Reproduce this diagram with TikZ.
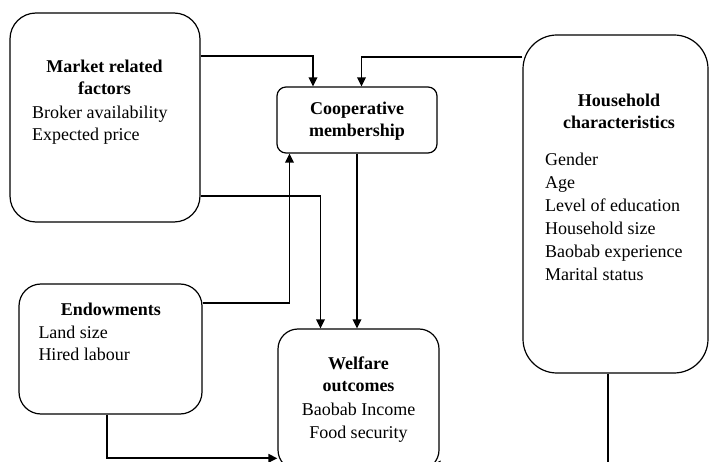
\documentclass[tikz,border=0pt]{standalone}
\usepackage{fontspec}
\setmainfont{Liberation Serif}
\usetikzlibrary{arrows.meta}
\newcommand{\tstrut}{\rule{0pt}{16pt}}
\begin{document}
\begin{tikzpicture}[x=1pt,y=-1pt,
  box/.style={draw=black, line width=1.2pt, inner sep=0pt},
  txt/.style={inner sep=0pt, font={\fontsize{18}{22.7}\selectfont}},
  hdr/.style={txt, anchor=north, align=center, font={\fontsize{18}{22.3}\selectfont\bfseries}},
  body/.style={txt, anchor=north west, align=left},
  arr/.style={line width=1.8pt, -{Triangle[length=9pt,width=8.5pt]}}
]
\useasboundingbox (0,0) rectangle (709,462);
\clip (0,0) rectangle (709,462);

% boxes
\node[box, rounded corners=26pt, minimum width=190pt, minimum height=209pt] (mkt) at (105,117.5) {};
\node[box, rounded corners=9pt, minimum width=160pt, minimum height=66pt] (coop) at (357,120) {};
\node[box, rounded corners=34pt, minimum width=185pt, minimum height=338pt] (hh) at (615.5,204) {};
\node[box, rounded corners=22pt, minimum width=183pt, minimum height=130pt] (endo) at (110.5,349) {};
\node[box, rounded corners=20pt, minimum width=161pt, minimum height=141pt] (wel) at (358.5,399.5) {};

% texts
\node[hdr] (mkth) at (104.5,56) {\tstrut Market related\\factors};
\node[body] (mktb) at (32,102) {\tstrut Broker availability\\Expected price};
\node[hdr] (cooph) at (357,98) {\tstrut Cooperative\\membership};
\node[hdr] (hhh) at (619,90) {\tstrut Household\\characteristics};
\node[body, font={\fontsize{18}{22.9}\selectfont}] (hhb) at (545,149.7) {\tstrut Gender\\Age\\Level of education\\Household size\\Baobab experience\\Marital status};
\node[hdr] (endoh) at (110.8,299) {\tstrut Endowments};
\node[body, font={\fontsize{18}{22.4}\selectfont}] (endob) at (38.3,322.3) {\tstrut Land size\\Hired labour};
\node[hdr] (welh) at (358.5,353.3) {\tstrut Welfare\\outcomes};
\node[txt, anchor=north, align=center] (welb) at (358.5,399.7) {\tstrut Baobab Income\\Food security};

% connectors
\draw[arr] (mkt.east |- 0,56) -| (313,0 |- coop.north);
\draw[arr] (hh.west |- 0,57.3) -| (361.5,0 |- coop.north);
\draw[arr] (mkt.east |- 0,196) -| (320.5,0 |- wel.north);
\draw[arr] (coop.south -| 357,0) -- (357,0 |- wel.north);
\draw[arr] (endo.east |- 0,303.3) -| (289.5,0 |- coop.south);
\draw[arr] (106.7,0 |- endo.south) |- (wel.west |- 0,458.3);
\draw[arr] (608.3,0 |- hh.south) |- (wel.east |- 0,465) -- ++(-8,0);
\end{tikzpicture}
\end{document}
